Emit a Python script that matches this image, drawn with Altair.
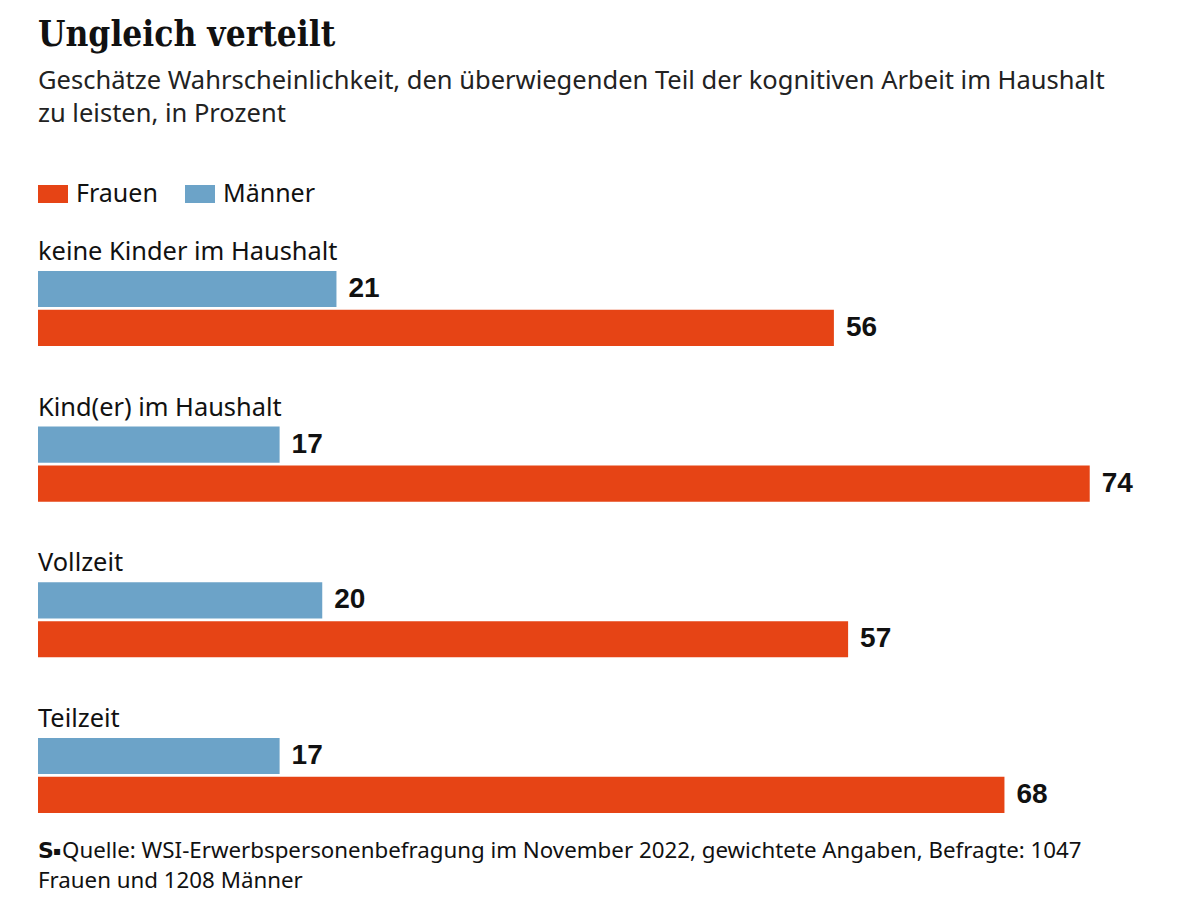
import altair as alt
import pandas as pd

# ---- data ----
categories = ["keine Kinder im Haushalt", "Kind(er) im Haushalt", "Vollzeit", "Teilzeit"]
frauen = [56, 74, 57, 68]
maenner = [21, 17, 20, 17]
series = ["Frauen", "Männer"]
colors = ["#E64415", "#6CA3C8"]
footer_line1 = "Quelle: WSI-Erwerbspersonenbefragung im November 2022, gewichtete Angaben, Befragte: 1047"
footer_line2 = "Frauen und 1208 Männer"

title_text = "Ungleich verteilt"
subtitle_lines = [
    "Geschätze Wahrscheinlichkeit, den überwiegenden Teil der kognitiven Arbeit im Haushalt",
    "zu leisten, in Prozent",
]

# ---- build tables ----
domain = []
bar_rows = []
label_rows = []
for i, c in enumerate(categories):
    domain += [f"{i}-label", f"{i}-Männer", f"{i}-Frauen"]
    if i < len(categories) - 1:
        domain.append(f"{i}-gap")
    label_rows.append({"row": f"{i}-label", "Kategorie": c})
    bar_rows.append({"row": f"{i}-Männer", "Kategorie": c, "Geschlecht": "Männer", "Wert": maenner[i]})
    bar_rows.append({"row": f"{i}-Frauen", "Kategorie": c, "Geschlecht": "Frauen", "Wert": frauen[i]})

bars_df = pd.DataFrame(bar_rows)
labels_df = pd.DataFrame(label_rows)

STEP = 38.75
H = round(STEP * len(domain))
W = 1137

y_enc = alt.Y("row:N", scale=alt.Scale(domain=domain, paddingInner=0.07, paddingOuter=0), axis=None)
x_enc = alt.X("Wert:Q", scale=alt.Scale(domain=[0, 80]), axis=None)

bars = alt.Chart(bars_df).mark_bar().encode(
    x=x_enc,
    y=y_enc,
    color=alt.Color(
        "Geschlecht:N",
        scale=alt.Scale(domain=series, range=colors),
        legend=alt.Legend(
            orient="top",
            direction="horizontal",
            title=None,
            symbolType="M-1,-0.6H1V0.6H-1Z",
            symbolSize=900,
            symbolStrokeWidth=0,
            symbolOpacity=1,
            labelFont="Noto Sans",
            labelFontSize=25,
            labelColor="#111111",
            labelOffset=8,
            columnPadding=27,
            offset=25,
        ),
    ),
)

values = alt.Chart(bars_df).mark_text(
    align="left", baseline="middle", dx=12,
    font="Liberation Sans", fontWeight="bold", fontSize=28, color="#111111",
).encode(x=x_enc, y=y_enc, text="Wert:Q")

cat_labels = alt.Chart(labels_df).mark_text(
    align="left", baseline="middle", dy=2,
    font="Noto Sans", fontSize=25.4, color="#111111",
).encode(x=alt.value(0), y=y_enc, text="Kategorie:N")

footer_df = pd.DataFrame({"t": [footer_line1]})
foot_logo = alt.Chart(footer_df).mark_text(
    text="S", align="left", baseline="middle",
    font="DejaVu Sans", fontWeight="bold", fontSize=22, color="#111111",
).encode(x=alt.value(0), y=alt.value(H + 38))
foot_dot = alt.Chart(footer_df).mark_text(
    text="▪", align="left", baseline="middle",
    font="DejaVu Sans", fontSize=12, color="#111111",
).encode(x=alt.value(15), y=alt.value(H + 38))
foot1 = alt.Chart(footer_df).mark_text(
    align="left", baseline="middle",
    font="Noto Sans", fontSize=22.3, color="#111111",
).encode(x=alt.value(24), y=alt.value(H + 38), text="t:N")
foot2 = alt.Chart(pd.DataFrame({"t": [footer_line2]})).mark_text(
    align="left", baseline="middle",
    font="Noto Sans", fontSize=22.3, color="#111111",
).encode(x=alt.value(0), y=alt.value(H + 68), text="t:N")

chart = (
    alt.layer(bars, values, cat_labels, foot_logo, foot_dot, foot1, foot2)
    .properties(
        width=W,
        height=H,
        padding={"left": 30, "top": 9, "right": 5, "bottom": 10},
        background="white",
        title=alt.TitleParams(
            text=title_text,
            subtitle=subtitle_lines,
            anchor="start",
            font="DejaVu Serif Condensed, DejaVu Serif",
            fontWeight="bold",
            fontSize=35,
            color="#111111",
            subtitleFont="Noto Sans",
            subtitleFontSize=25.5,
            subtitleColor="#222222",
            subtitleLineHeight=33,
            subtitlePadding=16,
            offset=52,
        ),
    )
    .configure_view(stroke=None)
)

chart.save("out.html", embed_options={"renderer": "svg", "actions": False})
